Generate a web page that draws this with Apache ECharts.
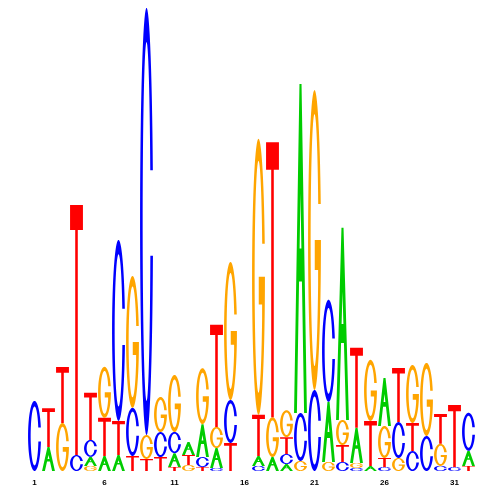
<!DOCTYPE html>
<html><head><meta charset="utf-8">
<script src="https://cdn.jsdelivr.net/npm/echarts@6/dist/echarts.min.js"></script>
<style>html,body{margin:0;padding:0;background:#fff}#c{width:500px;height:500px}</style>
</head><body><div id="c"></div>
<script>
// Sequence logo: letter heights (bits) per position
const positions = ['1','2','3','4','5','6','7','8','9','10','11','12','13','14','15','16','17','18','19','20','21','22','23','24','25','26','27','28','29','30','31','32'];
const A = [0, 0.103, 0, 0, 0.039, 0.065, 0.069, 0, 0, 0, 0.060, 0.056, 0.142, 0.086, 0, 0, 0.043, 0.060, 0.030, 1.418, 0, 0.259, 0.828, 0.151, 0.022, 0.207, 0, 0, 0, 0, 0, 0.065];
const C = [0.302, 0, 0, 0.069, 0.073, 0, 0.780, 0.207, 1.841, 0.108, 0.091, 0, 0.043, 0.013, 0.185, 0, 0.022, 0, 0.043, 0.207, 0.349, 0.440, 0.039, 0.013, 0, 0.017, 0.155, 0.086, 0.151, 0.022, 0.017, 0.164];
const G = [0, 0, 0.207, 0, 0.022, 0.220, 0, 0.569, 0.103, 0.151, 0.246, 0.026, 0.241, 0.091, 0.595, 0, 1.190, 0.172, 0.116, 0.043, 1.293, 0.039, 0.108, 0.022, 0.263, 0.138, 0.056, 0.250, 0.315, 0.095, 0, 0];
const T = [0, 0.168, 0.241, 1.078, 0.203, 0.164, 0.147, 0.065, 0.052, 0.060, 0.017, 0.043, 0.017, 0.440, 0.121, 0, 0.177, 1.185, 0.073, 0, 0, 0, 0.073, 0.345, 0.194, 0.039, 0.233, 0.121, 0, 0.129, 0.267, 0.022];

const HEIGHTS = {A: A, C: C, G: G, T: T};
const COLORS = {A: '#00CC00', C: '#0000FF', G: '#FFA500', T: '#FF0000'};

// glyph outlines in a unit box (y down), scaled to fill each letter's rectangle
function arc(cx, cy, rx, ry, t0, t1, n) {
  const a = [];
  for (let k = 0; k <= n; k++) { const t = t0 + (t1 - t0) * k / n; a.push([cx + rx * Math.cos(t), cy + ry * Math.sin(t)]); }
  return a;
}
function poly(pts) {
  return pts.map((p, k) => (k ? 'L' : 'M') + (p[0] * 100).toFixed(2) + ' ' + (p[1] * 100).toFixed(2)).join(' ') + ' Z';
}
const TAU = Math.PI * 2;
const glyphC = poly(arc(.5, .5, .5, .5, -Math.asin(.24), Math.asin(.16) - TAU, 64)
  .concat(arc(.5, .5, .3, .42, Math.asin(.08 / .42) - TAU, -Math.asin(.12 / .42), 64)));
const tg = Math.acos(0.28 / 0.3);
const glyphG = poly(arc(.5, .5, .5, .5, -Math.asin(.24), -TAU, 64)
  .concat([[1, .5], [.52, .5], [.52, .6], [.78, .6]])
  .concat(arc(.5, .5, .3, .42, tg - TAU, -Math.asin(.12 / .42), 64)));
const glyphA = poly([[.42, 0], [.58, 0], [1, 1], [.78, 1], [.612, .6], [.388, .6], [.22, 1], [0, 1]]) + ' ' +
  poly([[.5, .333], [.43, .5], [.57, .5]]);
const glyphT = poly([[0, 0], [1, 0], [1, .1], [.6, .1], [.6, 1], [.4, 1], [.4, .1], [0, .1]]);
const GLYPH = {A: glyphA, C: glyphC, G: glyphG, T: glyphT};

function renderItem(params, api) {
  const i = api.value(0);
  const base = api.coord([i, 0]);
  const band = api.size([1, 0])[0];
  const w = band * 0.92;
  const x0 = base[0] - w / 2;
  let y = base[1];
  const stack = ['A', 'C', 'G', 'T'].map(L => ({L: L, v: HEIGHTS[L][i]})).filter(d => d.v > 0).sort((a, b) => a.v - b.v);
  const children = [];
  stack.forEach(d => {
    const h = api.size([0, d.v])[1];
    y -= h;
    children.push({type: 'path', shape: {pathData: GLYPH[d.L], x: x0, y: y, width: w, height: h, layout: 'cover'},
      style: {fill: COLORS[d.L]}});
  });
  return {type: 'group', children: children};
}

const chart = echarts.init(document.getElementById('c'));
chart.setOption({
  animation: false,
  backgroundColor: '#ffffff',
  grid: {left: 27.5, right: 24.5, top: 7, bottom: 29},
  xAxis: {type: 'category', data: positions, boundaryGap: true,
    axisLine: {show: false}, axisTick: {show: false},
    axisLabel: {interval: 4, fontSize: 8, fontWeight: 'bold', color: '#000', margin: 8, fontFamily: 'Liberation Sans'}},
  yAxis: {type: 'value', min: 0, max: 2, show: false},
  series: [{type: 'custom', renderItem: renderItem,
    data: positions.map((p, i) => [i, A[i] + C[i] + G[i] + T[i]]), encode: {x: 0, y: 1}}]
});
</script></body></html>
